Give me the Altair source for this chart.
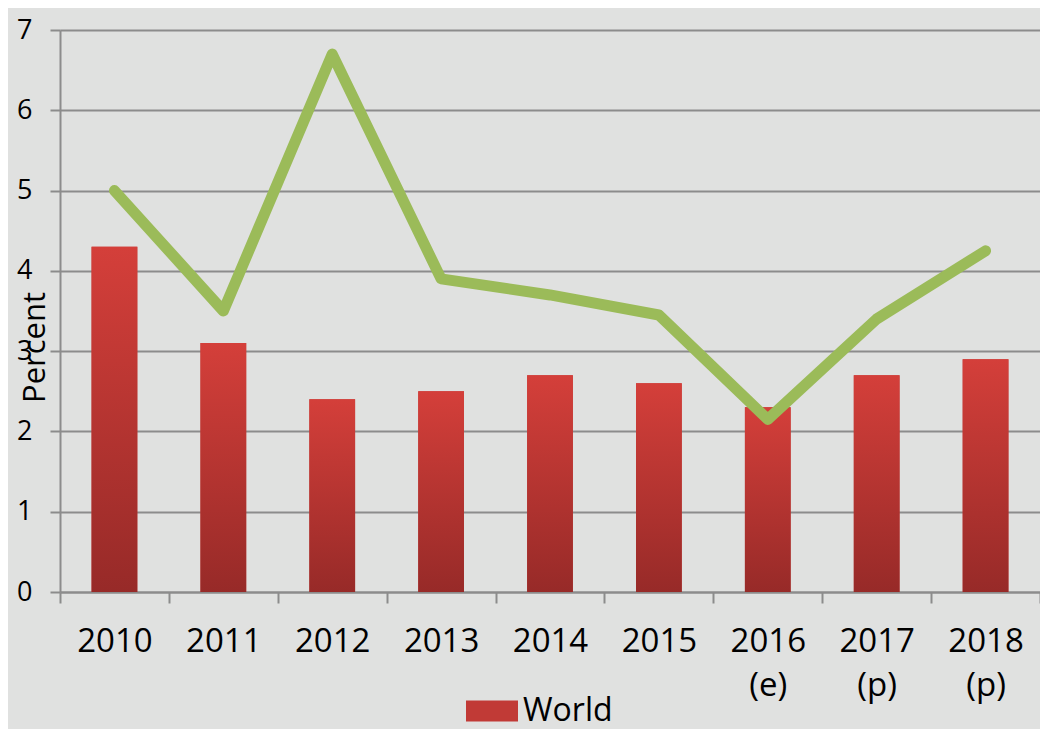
import altair as alt
import pandas as pd

years = ["2010", "2011", "2012", "2013", "2014", "2015", "2016 (e)", "2017 (p)", "2018 (p)"]
world = [4.3, 3.1, 2.4, 2.5, 2.7, 2.6, 2.3, 2.7, 2.9]
line_vals = [5.0, 3.5, 6.7, 3.9, 3.7, 3.45, 2.15, 3.4, 4.25]
series_name = "World"
y_ticks = [0, 1, 2, 3, 4, 5, 6, 7]

df = pd.DataFrame({
    "year": years,
    "world": world,
    "other": line_vals,
    "series": [series_name] * len(years),
})

GRID = "#8c8c8c"
FONT = "Open Sans"

x_enc = alt.X(
    "year:N",
    sort=years,
    scale=alt.Scale(paddingInner=0, paddingOuter=0),
    axis=alt.Axis(
        title=None,
        labelExpr="split(datum.label, ' ')",
        labelFontSize=33,
        labelLineHeight=44,
        labelPadding=22,
        labelAngle=0,
        labelColor="black",
        labelFont=FONT,
        tickSize=11,
        tickBand="extent",
        tickColor=GRID,
        tickWidth=2,
        domainColor=GRID,
        domainWidth=2,
        grid=False,
    ),
)

y_axis = alt.Axis(
    values=y_ticks,
    title="Percent",
    titleFont=FONT,
    titleFontSize=31,
    titleFontWeight="normal",
    titleColor="black",
    titleX=-25,
    titleY=317,
    titleAlign="center",
    titleBaseline="middle",
    labelFontSize=27,
    labelFont=FONT,
    labelColor="black",
    labelPadding=18,
    tickSize=10,
    tickColor=GRID,
    tickWidth=2,
    domainColor=GRID,
    domainWidth=2,
    grid=True,
    gridColor=GRID,
    gridWidth=2,
)
y_scale = alt.Scale(domain=[0, 7])
bar_w = alt.RelativeBandSize(0.42)

base = alt.Chart(df)

legend_bars = base.mark_bar(width=bar_w).encode(
    x=x_enc,
    y=alt.Y("world:Q", scale=y_scale, axis=y_axis),
    color=alt.Color(
        "series:N",
        scale=alt.Scale(range=["#c13a36"]),
        legend=alt.Legend(
            title=None,
            orient="none",
            legendX=406,
            legendY=655,
            symbolType="M-1,-0.404H1V0.404H-1Z",
            symbolSize=2704,
            symbolStrokeWidth=0,
            labelFontSize=32,
            labelFont=FONT,
            labelColor="black",
            labelOffset=5,
            padding=0,
        ),
    ),
)

grad_bars = base.mark_bar(
    width=bar_w,
    color={
        "gradient": "linear",
        "x1": 0, "y1": 0, "x2": 0, "y2": 1,
        "stops": [
            {"offset": 0, "color": "#d43f3a"},
            {"offset": 1, "color": "#972a28"},
        ],
    },
).encode(
    x=x_enc,
    y=alt.Y("world:Q", scale=y_scale, axis=y_axis),
)

line = base.mark_line(
    color="#9bbb59", strokeWidth=11, strokeCap="round", strokeJoin="round"
).encode(
    x=x_enc,
    y=alt.Y("other:Q", scale=y_scale, axis=y_axis),
)

chart = (
    alt.layer(legend_bars, grad_bars, line)
    .properties(
        width=980,
        height=562,
        background="#e0e1e0",
        padding={"left": 52, "top": 22, "right": 0, "bottom": 137},
        autosize=alt.AutoSizeParams(type="none"),
    )
    .configure_view(stroke=None)
)

chart.save("out.html", embed_options={"renderer": "svg", "actions": False})
